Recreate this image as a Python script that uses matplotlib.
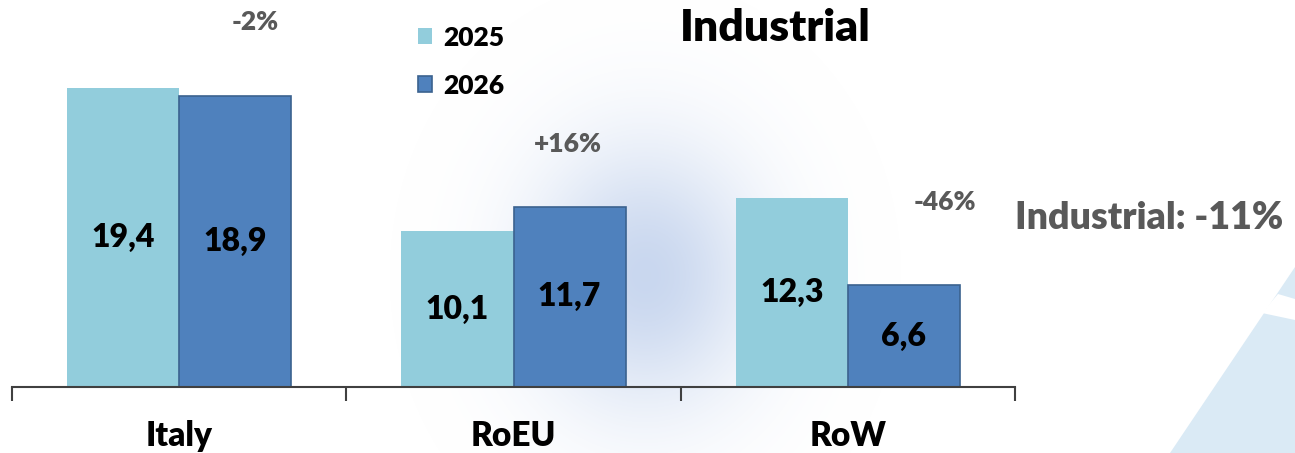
import numpy as np
import matplotlib.pyplot as plt
from matplotlib.patches import Patch, Polygon

plt.rcParams['font.family'] = ['Lato', 'DejaVu Sans']
plt.rcParams['font.weight'] = 'bold'

# Data
categories = ["Italy", "RoEU", "RoW"]
series_names = ["2025", "2026"]
values_2025 = [19.4, 10.1, 12.3]
values_2026 = [18.9, 11.7, 6.6]
changes = ["-2%", "+16%", "-46%"]
title = "Industrial"
total_change = "Industrial: -11%"

c2025 = "#92cddc"
c2026 = "#4f81bd"

W, H = 1295, 453
fig = plt.figure(figsize=(W / 100, H / 100), dpi=100)
fig.patch.set_facecolor("white")

# background: soft blue glow + triangle at bottom right
bg = fig.add_axes([0, 0, 1, 1], zorder=0)
bg.set_xlim(0, W)
bg.set_ylim(H, 0)
bg.axis("off")
yy, xx = np.mgrid[0:H, 0:W]
d = np.sqrt(((xx - 645) / 95.0) ** 2 + ((yy - 275) / 110.0) ** 2)
alpha = 0.7 * np.exp(-d ** 2 / 1.4)
rgba = np.zeros((H, W, 4))
rgba[..., 0] = 0.70
rgba[..., 1] = 0.78
rgba[..., 2] = 0.91
rgba[..., 3] = alpha
bg.imshow(rgba, extent=(0, W, H, 0), aspect="auto", interpolation="bilinear")
bg.add_patch(Polygon([(1170, 453), (1295, 267), (1295, 453)], closed=True,
                     facecolor="#daeaf5", edgecolor="none"))
bg.add_patch(Polygon([(1262, 313), (1278, 294), (1295, 299), (1295, 320)],
                     closed=True, facecolor="white", edgecolor="none"))

# main axes
ax = fig.add_axes([12 / W, 1 - 387 / H, 1003 / W, 387 / H], zorder=1)
ax.patch.set_alpha(0)
x = np.arange(len(categories))
bw = 0.335
b1 = ax.bar(x - bw / 2, values_2025, bw, color=c2025, edgecolor="none", zorder=2)
b2 = ax.bar(x + bw / 2, values_2026, bw, color=c2026, edgecolor="#3b628f",
            linewidth=1.2, zorder=2)

fmt = lambda v: f"{v:.1f}".replace(".", ",")
ax.bar_label(b1, labels=[fmt(v) for v in values_2025], label_type="center",
             fontsize=23, fontweight="heavy", color="black")
ax.bar_label(b2, labels=[fmt(v) for v in values_2026], label_type="center",
             fontsize=23, fontweight="heavy", color="black")

# change labels above groups
change_pos = [(0.227, 23.7), (1.163, 15.8), (2.29, 12.0)]
for (px, py), lab in zip(change_pos, changes):
    ax.text(px, py, lab, ha="center", va="center", fontsize=19,
            fontweight="heavy", color="#595959")

ax.set_xlim(-0.5, 2.5)
ax.set_ylim(0, 387 / 15.4)
ax.set_yticks([])
ax.set_xticks(x)
ax.set_xticklabels(categories, fontsize=24, fontweight="heavy")
ax.tick_params(axis="x", which="major", length=0, pad=24)
ax.set_xticks([-0.5, 0.5, 1.5, 2.5], minor=True)
ax.tick_params(axis="x", which="minor", length=10, width=1.5, color="#404040",
               direction="out")
for s in ["top", "right", "left"]:
    ax.spines[s].set_visible(False)
ax.spines["bottom"].set_color("#404040")
ax.spines["bottom"].set_linewidth(1.5)

# legend
handles = [Patch(facecolor=c2025, edgecolor="none"),
           Patch(facecolor=c2026, edgecolor="#3b628f", linewidth=1.2)]
fig.legend(handles, series_names, loc="upper left",
           bbox_to_anchor=(394 / W, 1 - 2 / H), frameon=False,
           handlelength=0.55, handleheight=0.55,
           handletextpad=0.4, labelspacing=0.9,
           prop={"weight": "heavy", "size": 19})

fig.text(775 / W, 1 - 28 / H, title, ha="center", va="center",
         fontsize=32, fontweight="heavy", color="black")
fig.text(1149 / W, 1 - 218 / H, total_change, ha="center", va="center",
         fontsize=27, fontweight="heavy", color="#595959")

fig.savefig("out.png", dpi=100)
